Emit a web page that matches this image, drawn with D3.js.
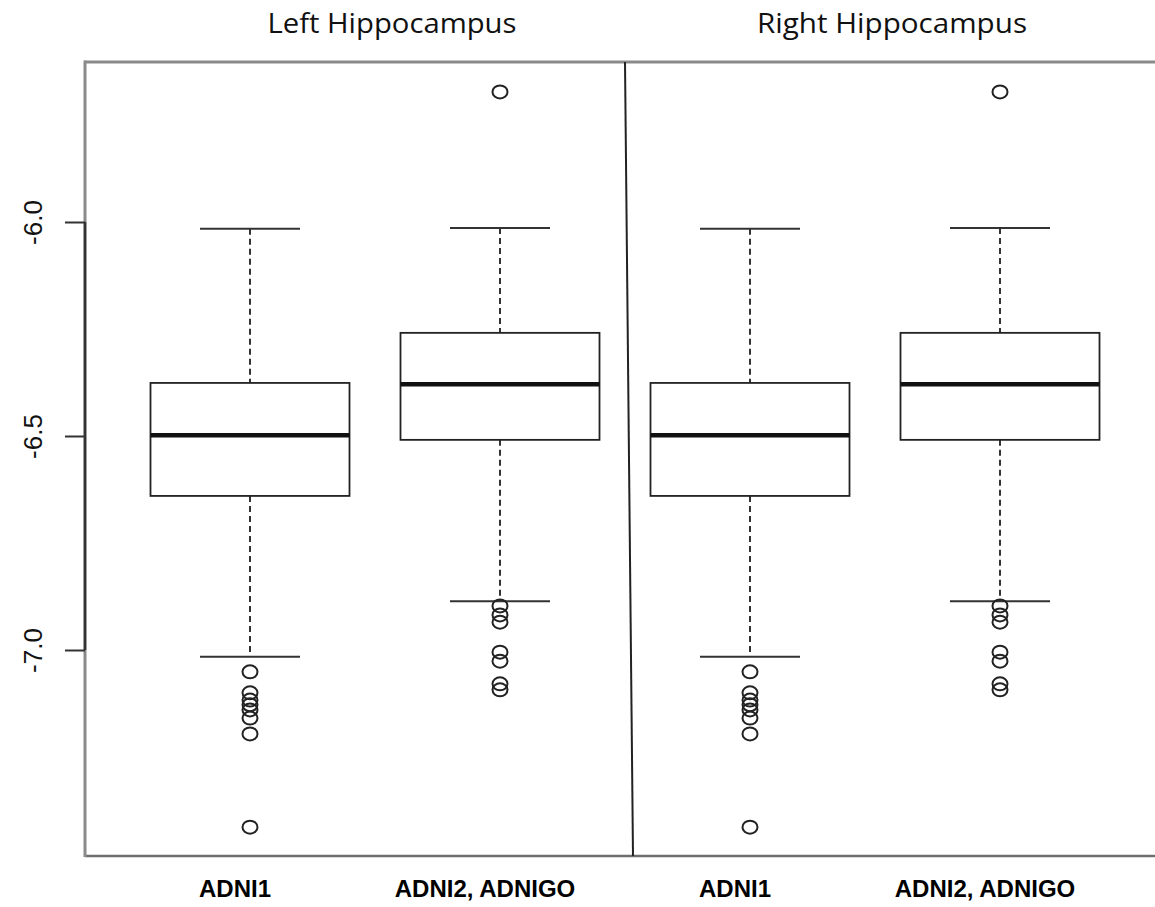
<!DOCTYPE html>
<html>
<head>
<meta charset="utf-8">
<script src="https://cdn.jsdelivr.net/npm/d3@7"></script>
<style>
  html, body { margin: 0; padding: 0; background: #fff; }
  svg { display: block; }
</style>
</head>
<body>
<svg id="chart" width="1155" height="907"></svg>
<script>
// Hippocampus summary scores by cohort, one box per cohort and hemisphere
const panels = ["Left Hippocampus", "Right Hippocampus"];
const groups = ["ADNI1", "ADNI2, ADNIGO", "ADNI1", "ADNI2, ADNIGO"];
const whiskerHigh = [-6.016, -6.014, -6.016, -6.014];
const q3 = [-6.376, -6.259, -6.376, -6.259];
const median = [-6.498, -6.379, -6.498, -6.379];
const q1 = [-6.640, -6.509, -6.640, -6.509];
const whiskerLow = [-7.016, -6.886, -7.016, -6.886];
const outliers = [
  [-7.051, -7.100, -7.117, -7.128, -7.140, -7.159, -7.196, -7.414],
  [-5.696, -6.897, -6.918, -6.935, -7.005, -7.026, -7.079, -7.093],
  [-7.051, -7.100, -7.117, -7.128, -7.140, -7.159, -7.196, -7.414],
  [-5.696, -6.897, -6.918, -6.935, -7.005, -7.026, -7.079, -7.093]
];
const yTicks = [-6.0, -6.5, -7.0];

const svg = d3.select("#chart");
const W = 1155;
const frame = { left: 85, top: 62, bottom: 856 };

const x = d3.scaleLinear().domain([1, 4]).range([250, 1000]);
const y = d3.scaleLinear().domain([-6, -7]).range([222, 650]);

const boxW = 199, capW = 100;

// plot frame (open on the right)
const frameG = svg.append("g").attr("fill", "none");
frameG.append("line").attr("x1", frame.left).attr("x2", W)
  .attr("y1", frame.top).attr("y2", frame.top)
  .attr("stroke", "#8a8a8a").attr("stroke-width", 3);
frameG.append("line").attr("x1", frame.left).attr("x2", W)
  .attr("y1", frame.bottom).attr("y2", frame.bottom)
  .attr("stroke", "#6e6e6e").attr("stroke-width", 2.5);
frameG.append("line").attr("x1", frame.left).attr("x2", frame.left)
  .attr("y1", frame.top - 1.5).attr("y2", frame.bottom + 1)
  .attr("stroke", "#8a8a8a").attr("stroke-width", 3);

// y axis
const yAxis = d3.axisLeft(y).tickValues(yTicks).tickSize(20)
  .tickFormat(d3.format(".1f"));
const yG = svg.append("g").attr("transform", `translate(${frame.left},0)`).call(yAxis);
yG.select(".domain").attr("d", `M0,${y(-6)}V${y(-7)}`)
  .attr("stroke", "#333").attr("stroke-width", 2.5);
yG.selectAll(".tick line").attr("stroke", "#333").attr("stroke-width", 2);
yG.selectAll(".tick text")
  .attr("x", 0).attr("y", 0).attr("dy", 0)
  .attr("transform", "translate(-43,0) rotate(-90)")
  .attr("text-anchor", "middle")
  .attr("font-family", "Liberation Sans, Arial, sans-serif")
  .attr("font-size", 26)
  .attr("fill", "#111")
  .text(d => d3.format(".1f")(d).replace("−", "-"));

// panel divider
svg.append("line")
  .attr("x1", 625).attr("y1", frame.top).attr("x2", 633).attr("y2", frame.bottom)
  .attr("stroke", "#222").attr("stroke-width", 2);

// panel titles
svg.selectAll("text.title").data(panels).join("text")
  .attr("class", "title")
  .attr("x", (d, i) => (x(1 + 2 * i) + x(2 + 2 * i)) / 2 + 17)
  .attr("y", 33)
  .attr("text-anchor", "middle")
  .attr("font-family", "Open Sans, Lato, sans-serif")
  .attr("font-size", 28)
  .attr("textLength", (d, i) => i === 0 ? 249 : 270)
  .attr("lengthAdjust", "spacingAndGlyphs")
  .attr("fill", "#111")
  .text(d => d);

// boxes
const idx = d3.range(groups.length);
const boxes = svg.append("g").selectAll("g").data(idx).join("g");

boxes.append("line")
  .attr("x1", i => x(i + 1)).attr("x2", i => x(i + 1))
  .attr("y1", i => y(whiskerHigh[i])).attr("y2", i => y(q3[i]))
  .attr("stroke", "#333").attr("stroke-width", 2).attr("stroke-dasharray", "6,4");
boxes.append("line")
  .attr("x1", i => x(i + 1)).attr("x2", i => x(i + 1))
  .attr("y1", i => y(q1[i])).attr("y2", i => y(whiskerLow[i]))
  .attr("stroke", "#333").attr("stroke-width", 2).attr("stroke-dasharray", "6,4");
boxes.append("line")
  .attr("x1", i => x(i + 1) - capW / 2).attr("x2", i => x(i + 1) + capW / 2)
  .attr("y1", i => y(whiskerHigh[i])).attr("y2", i => y(whiskerHigh[i]))
  .attr("stroke", "#333").attr("stroke-width", 2);
boxes.append("line")
  .attr("x1", i => x(i + 1) - capW / 2).attr("x2", i => x(i + 1) + capW / 2)
  .attr("y1", i => y(whiskerLow[i])).attr("y2", i => y(whiskerLow[i]))
  .attr("stroke", "#333").attr("stroke-width", 2);
boxes.append("rect")
  .attr("x", i => x(i + 1) - boxW / 2).attr("width", boxW)
  .attr("y", i => y(q3[i])).attr("height", i => y(q1[i]) - y(q3[i]))
  .attr("fill", "#fff").attr("stroke", "#222").attr("stroke-width", 1.8);
boxes.append("line")
  .attr("x1", i => x(i + 1) - boxW / 2).attr("x2", i => x(i + 1) + boxW / 2)
  .attr("y1", i => y(median[i])).attr("y2", i => y(median[i]))
  .attr("stroke", "#111").attr("stroke-width", 4.5);

// outliers
boxes.selectAll("ellipse").data(i => outliers[i].map(v => ({ i, v }))).join("ellipse")
  .attr("cx", d => x(d.i + 1)).attr("cy", d => y(d.v))
  .attr("rx", 7.5).attr("ry", 6.5)
  .attr("fill", "none").attr("stroke", "#222").attr("stroke-width", 2);

// category labels
svg.selectAll("text.cat").data(idx).join("text")
  .attr("class", "cat")
  .attr("x", i => x(i + 1) - 15)
  .attr("y", 897)
  .attr("text-anchor", "middle")
  .attr("font-family", "Liberation Sans, Arial, sans-serif")
  .attr("font-weight", "bold")
  .attr("font-size", 24)
  .attr("fill", "#000")
  .text(i => groups[i]);
</script>
</body>
</html>
